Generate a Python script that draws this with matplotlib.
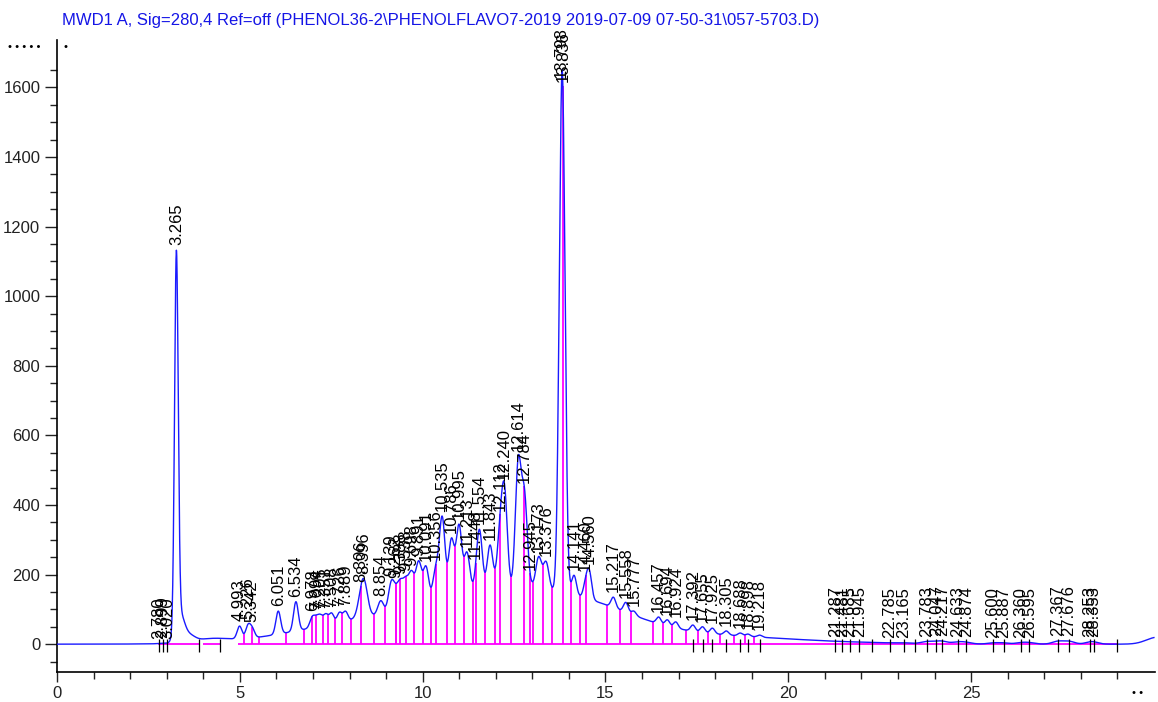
import numpy as np
import matplotlib.pyplot as plt

plt.rcParams['font.family'] = ['Liberation Sans', 'DejaVu Sans']

# labelled peaks: retention time (min) and apex signal (mAU)
peak_rt = [2.780, 2.899, 3.020, 3.265, 4.993, 5.226, 5.342, 6.051, 6.534,
           6.978, 7.094, 7.205, 7.351, 7.508, 7.726, 7.889, 8.306, 8.396,
           8.854, 9.139, 9.262, 9.388, 9.538, 9.698, 9.891, 10.091, 10.356,
           10.535, 10.786, 10.995, 11.213, 11.448, 11.554, 11.843, 12.112,
           12.240, 12.614, 12.784, 12.945, 13.173, 13.376, 13.798, 13.836,
           14.141, 14.460, 14.560, 15.217, 15.558, 15.777, 16.457, 16.694,
           16.924, 17.392, 17.655, 17.925, 18.305, 18.688, 18.898, 19.218,
           21.287, 21.481, 21.685, 21.945, 22.785, 23.165, 23.783, 24.047,
           24.217, 24.633, 24.874, 25.600, 25.887, 26.360, 26.595, 27.367,
           27.676, 28.253, 28.353]
peak_top = [2, 3, 2, 1132, 52, 58, 50, 95, 122,
            80, 84, 86, 88, 90, 92, 95, 165, 188,
            125, 182, 175, 188, 195, 212, 240, 225, 228,
            368, 305, 345, 265, 232, 330, 285, 370,
            460, 540, 450, 200, 252, 238, 1612, 1600,
            198, 195, 215, 135, 120, 95, 78, 70,
            64, 55, 50, 46, 38, 32, 29, 26,
            7, 7, 6, 6, 4, 4, 8, 9,
            9, 7, 6, 4, 4, 5, 5, 9,
            9, 7, 7]

# unlabelled broad components: hump under the cluster, tail of 3.265, end drift
bg_rt = [9.0, 12.5, 14.8, 16.5, 3.36, 3.62, 4.20, 30.1]
bg_top = [70, 120, 40, 30, 80, 18, 10, 20]
bg_sd = [2.2, 1.8, 1.3, 3.0, 0.12, 0.15, 0.45, 0.3]

# baseline event marks without drop lines
extra_marks = [3.88, 4.47, 22.29, 23.47, 29.0]
baseline_segs = [(2.75, 3.88), (3.98, 4.47), (4.95, 29.0)]

title = ('MWD1 A, Sig=280,4 Ref=off (PHENOL36-2\\PHENOLFLAVO7-2019 '
         '2019-07-09 07-50-31\\057-5703.D)')


def gauss(t, c, h, s):
    return h * np.exp(-(t - c) ** 2 / (2 * s ** 2))


rt = np.array(peak_rt)
top = np.array(peak_top, dtype=float)
sd = np.where(rt > 20, 0.15, 0.065)
sd[(rt > 8.8) & (rt < 13.5)] = 0.078
sd[(rt > 8.2) & (rt < 8.5)] = 0.1
sd[rt == 3.265] = 0.05
sd[(rt > 13.7) & (rt < 13.9)] = 0.075

t = np.linspace(0, 30, 6001)
bg = np.zeros_like(t)
bg_at_rt = np.zeros_like(rt)
for c, h, s in zip(bg_rt, bg_top, bg_sd):
    bg += gauss(t, c, h, s)
    bg_at_rt += gauss(rt, c, h, s)

# amplitudes so the apex heights land on the read values
A = np.exp(-(rt[:, None] - rt[None, :]) ** 2 / (2 * sd[None, :] ** 2))
target = np.clip(top - bg_at_rt, 0, None)
amp = target.copy()
for _ in range(600):
    amp = np.clip(amp + 0.25 * (target - A @ amp), 0, None)

sig = bg.copy()
for c, h, s in zip(rt, amp, sd):
    sig += gauss(t, c, h, s)

fig = plt.figure(figsize=(11.58, 7.02), dpi=100)
ax = fig.add_axes([57 / 1158, 30 / 702, 1098 / 1158, 632 / 702])

# magenta baseline and drop lines at valleys
for a, b in baseline_segs:
    ax.hlines(0, a, b, color='#ff00ff', lw=1.3, zorder=2)
drop_idx = [i for i in range(len(rt)) if 4.9 < rt[i] < 19.3]
for i, j in zip(drop_idx[:-1], drop_idx[1:]):
    m = (t > rt[i]) & (t < rt[j])
    k = np.argmin(sig[m])
    ax.vlines(t[m][k], 0, sig[m][k], color='#ff00ff', lw=1.3, zorder=2)

ax.plot(t, sig, color='#1a1aff', lw=1.0, zorder=3)

marks = list(rt[(rt < 3.1) | (rt > 17.3)]) + extra_marks
ax.vlines(marks, -22, 16, color='black', lw=0.9, zorder=4)

for c, h in zip(peak_rt, peak_top):
    ax.text(c, h + 14, f'{c:.3f}', rotation=90, ha='center', va='bottom',
            fontsize=12, color='black', zorder=5)

ax.set_xlim(0, 30.03)
ax.set_ylim(-80, 1736)
ax.set_xticks([0, 5, 10, 15, 20, 25])
ax.set_xticks(np.arange(0, 30, 1), minor=True)
ax.set_yticks(np.arange(0, 1700, 200))
ax.set_yticks(np.arange(-50, 1700, 50), minor=True)
ax.tick_params(which='major', length=7, width=1, labelsize=12, pad=3,
               colors='#222222')
ax.tick_params(axis='y', which='major', length=9)
ax.tick_params(which='minor', length=5, width=1, colors='#222222')
for s in ['top', 'right']:
    ax.spines[s].set_visible(False)
for s in ['left', 'bottom']:
    ax.spines[s].set_linewidth(1.2)

fig.text(62 / 1158, 1 - 20 / 702, title, color='#1515e6', fontsize=12,
         va='center', ha='left')
fig.text(8 / 1158, 1 - 47 / 702, '• • • • •', fontsize=8, va='center')
fig.text(64 / 1158, 1 - 47 / 702, '•', fontsize=8, va='center')
fig.text(1132 / 1158, 1 - 693 / 702, '• •', fontsize=8, va='center')

fig.savefig('out.png', dpi=100)
